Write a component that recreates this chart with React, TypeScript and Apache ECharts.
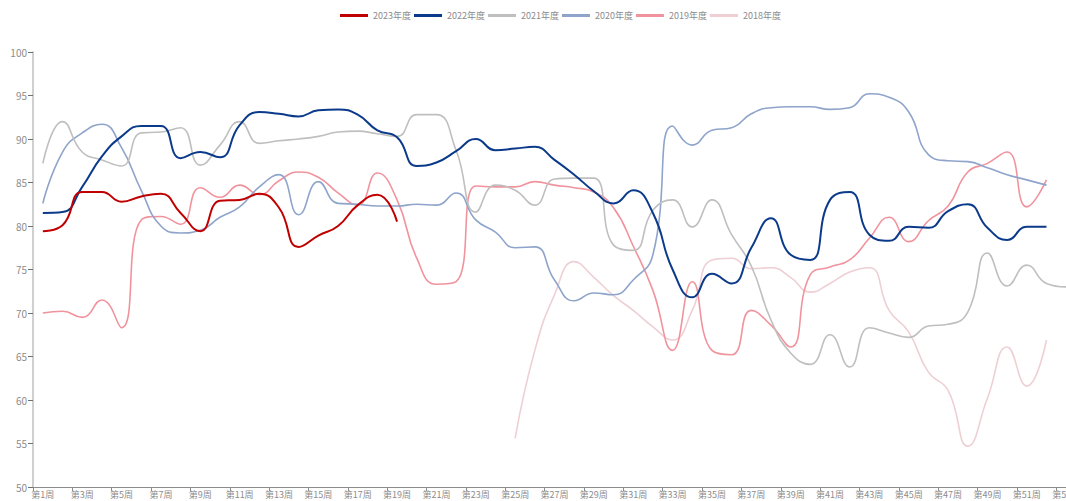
import React, { useEffect, useRef } from "react";
import * as echarts from "echarts";

const weeks: string[] = Array.from({ length: 53 }, (_, i) => `第${i + 1}周`);

const s2023 = [79.4, 80.1, 83.9, 83.9, 82.8, 83.4, 83.7, 81.5, 79.4, 82.9, 83.0, 83.7, 82.1, 77.6, 78.9, 80.0, 82.4, 83.6, 80.5];

const s2022 = [81.5, 81.6, 84.5, 88.0, 90.3, 91.5, 91.5, 87.8, 88.5, 87.9, 91.6, 93.1, 92.9, 92.6, 93.3, 93.4, 92.8, 91.0, 90.2, 86.9,
  87.3, 88.6, 90.0, 88.7, 88.9, 89.1, 87.6, 85.9, 84.0, 82.6, 84.1, 81.5, 75.0, 71.8, 74.5, 73.4, 77.5, 80.9, 76.7, 76.1,
  83.0, 83.9, 79.0, 78.3, 79.9, 79.8, 81.7, 82.5, 79.8, 78.4, 79.9, 79.9];

const s2021 = [87.2, 92.0, 88.5, 87.6, 86.9, 90.7, 90.8, 91.3, 87.0, 89.3, 92.0, 89.5, 89.8, 90.0, 90.3, 90.8, 90.9, 90.6, 90.3, 92.8,
  92.8, 88.7, 81.6, 84.7, 84.1, 82.4, 85.4, 85.5, 85.5, 77.8, 77.2, 81.8, 83.0, 79.9, 83.0, 79.0, 75.4, 69.2, 65.4, 64.1,
  67.5, 63.8, 68.3, 67.7, 67.2, 68.5, 68.7, 70.1, 76.9, 73.1, 75.5, 73.4, 73.0];

const s2020 = [82.6, 88.5, 90.7, 91.7, 89.0, 84.1, 80.0, 79.2, 79.5, 81.0, 82.2, 84.5, 85.9, 81.3, 85.1, 82.6, 82.5, 82.3, 82.3, 82.5,
  82.4, 83.8, 80.7, 79.3, 77.5, 77.6, 73.8, 71.4, 72.3, 72.1, 73.8, 76.7, 91.5, 89.3, 91.0, 91.3, 92.9, 93.6, 93.7, 93.7,
  93.4, 93.6, 95.2, 94.8, 93.1, 88.2, 87.5, 87.4, 86.7, 85.9, 85.3, 84.7];

const s2019 = [70.0, 70.2, 69.5, 71.5, 68.3, 80.7, 81.1, 80.2, 84.4, 83.3, 84.7, 83.6, 85.2, 86.2, 85.6, 83.8, 82.4, 86.1, 83.0, 76.3,
  73.3, 73.6, 84.6, 84.5, 84.5, 85.1, 84.7, 84.4, 83.9, 82.1, 77.7, 72.6, 65.7, 73.6, 65.7, 65.2, 70.3, 68.6, 66.1, 74.4,
  75.3, 76.1, 78.6, 81.0, 78.2, 80.6, 82.3, 86.2, 87.2, 88.5, 82.2, 85.3];

const s2018: (number | null)[] = [null, null, null, null, null, null, null, null, null, null, null, null, null, null, null, null, null, null, null, null,
  null, null, null, null, 55.6, 65.7, 72.1, 75.9, 74.1, 72.0, 70.3, 68.4, 66.9, 70.3, 76.1, 76.3, 75.1, 75.2, 74.1, 72.4,
  73.4, 74.7, 75.2, 70.3, 67.8, 63.2, 61.1, 54.7, 60.2, 66.1, 61.6, 66.9];

const seriesNames = ["2023年度", "2022年度", "2021年度", "2020年度", "2019年度", "2018年度"];
const seriesColors = ["#C00000", "#0B3A8A", "#BFBFBF", "#8EA4CA", "#F1939D", "#EECFD4"];
const seriesWidths = [2, 2, 1.6, 1.6, 1.6, 1.6];
const seriesData = [s2023, s2022, s2021, s2020, s2019, s2018];

const FONT = "'Noto Sans CJK SC', 'Noto Sans', sans-serif";

export default function App() {
  const ref = useRef<HTMLDivElement>(null);
  useEffect(() => {
    document.body.style.margin = "0";
    const chart = echarts.init(ref.current!, null, { renderer: "svg" });
    chart.setOption({
      animation: false,
      textStyle: { fontFamily: FONT },
      legend: {
        top: 6,
        left: 335,
        itemWidth: 28,
        itemHeight: 3,
        itemGap: 3,
        icon: "rect",
        textStyle: { color: "#8C8C8C", fontSize: 9, fontFamily: FONT },
        data: seriesNames,
      },
      grid: { left: 33, right: -10, top: 52, bottom: 14, containLabel: false, outerBoundsMode: "none" },
      xAxis: {
        type: "category",
        data: weeks,
        boundaryGap: true,
        axisLine: { lineStyle: { color: "#8C8C8C", width: 1 } },
        axisTick: { show: true, interval: 1, length: 4, lineStyle: { color: "#8C8C8C" } },
        axisLabel: { interval: 1, color: "#8C8C8C", fontSize: 9, margin: 3, fontFamily: FONT },
        splitLine: { show: false },
      },
      yAxis: {
        type: "value",
        min: 50,
        max: 100,
        interval: 5,
        axisLine: { show: true, lineStyle: { color: "#D0D0D0", width: 2 } },
        axisTick: { show: true, length: 5, lineStyle: { color: "#707070" } },
        axisLabel: { color: "#8C8C8C", fontSize: 10, margin: 6, fontFamily: FONT },
        splitLine: { show: false },
      },
      series: seriesNames.map((name, i) => ({
        name,
        type: "line",
        data: seriesData[i],
        smooth: 0.5,
        showSymbol: false,
        symbol: "none",
        connectNulls: false,
        lineStyle: { color: seriesColors[i], width: seriesWidths[i] },
        itemStyle: { color: seriesColors[i] },
        z: 10 - i,
      })),
    });
    return () => chart.dispose();
  }, []);
  return <div ref={ref} style={{ width: 1066, height: 501 }} />;
}
